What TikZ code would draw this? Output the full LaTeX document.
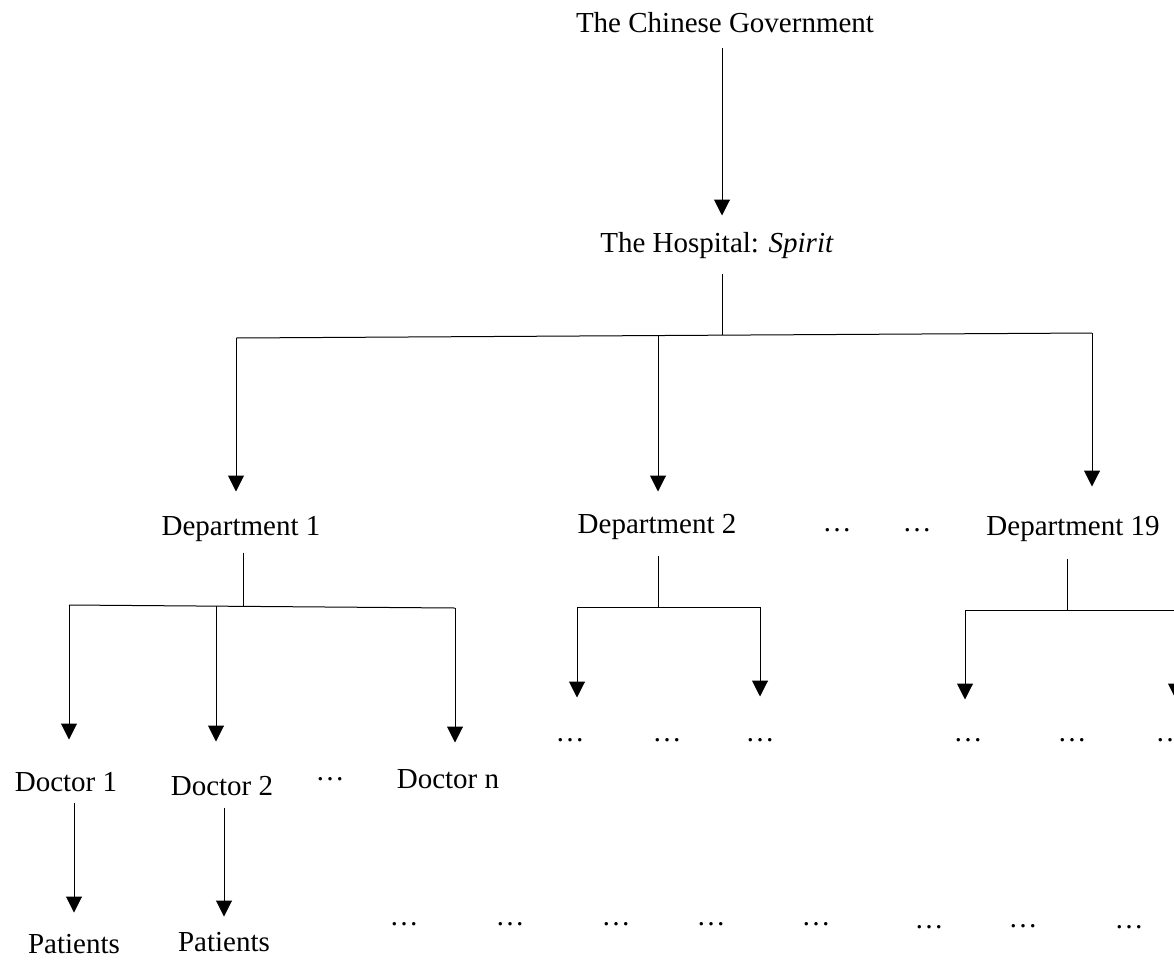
\documentclass[tikz,border=0pt]{standalone}
\usepackage{fontspec}
\setmainfont{Liberation Serif}
\usetikzlibrary{arrows.meta}

\begin{document}
\begin{tikzpicture}[x=1pt,y=-1pt,line width=1pt,
  lbl/.style={anchor=base,inner sep=0pt,text height=20pt,text depth=6pt,font=\fontsize{29}{34}\selectfont},
  tip/.style={-{Triangle[length=16pt,width=16pt]}}]

\useasboundingbox (0,0) rectangle (1174,964) ;
\clip (0,0) rectangle (1174,964) ;

\node[lbl] (gov) at (725,32) {The Chinese Government} ;
\node[lbl] (hosp) at (717,252) {The Hospital: \textit{Spirit}} ;

\node[lbl] (dep1) at (241,535) {Department 1} ;
\node[lbl] (dep2) at (657,533) {Department 2} ;
\node[lbl] (depdotsa) at (837,531) {…} ;
\node[lbl] (depdotsb) at (917,531) {…} ;
\node[lbl] (dep19) at (1073,535) {Department 19} ;

\node[lbl] (doc1) at (66,791) {Doctor 1} ;
\node[lbl] (doc2) at (222,795) {Doctor 2} ;
\node[lbl] (docdots) at (330,780) {…} ;
\node[lbl] (docn) at (448,788) {Doctor n} ;

\node[lbl] (pat1) at (74,953) {Patients} ;
\node[lbl] (pat2) at (224,951) {Patients} ;

\foreach \x [count=\i] in {570,667,760} \node[lbl] (dtwo\i) at (\x,741) {…} ;
\foreach \x [count=\i] in {968,1072,1170} \node[lbl] (dnineteen\i) at (\x,741) {…} ;
\foreach \x/\y [count=\i] in {404/925,510/925,616/925,711/925,816/925,929/928,1023/927,1129/928}
  \node[lbl] (bot\i) at (\x,\y) {…} ;

\coordinate (hbarL) at (236,338) ;
\coordinate (hbar) at (722,335) ;
\coordinate (hbarM) at (658,335.5) ;
\coordinate (hbarR) at (1092,333) ;

\draw[tip,shorten <=9pt,shorten >=16pt] (hbar |- gov.south) -- (hbar |- hosp.north) ;
\draw[shorten <=15pt] (hbar |- hosp.south) -- (hbar) ;
\draw (hbarL) -- (hbarR) ;
\draw[tip,shorten >=23pt] (hbarL) -- (hbarL |- dep1.north) ;
\draw[tip,shorten >=21pt] (hbarM) -- (hbarM |- dep2.north) ;
\draw[tip,shorten >=28pt] (hbarR) -- (hbarR |- dep19.north) ;

\coordinate (bonL) at (69,605) ;
\coordinate (bon) at (243,606) ;
\coordinate (bonM) at (216,606) ;
\coordinate (bonR) at (455,608) ;

\draw[shorten <=11pt] (bon |- dep1.south) -- (bon) ;
\draw (bonL) -- (bonR) ;
\draw[tip,shorten >=31pt] (bonL) -- (bonL |- doc1.north) ;
\draw[tip,shorten >=33pt] (bonM) -- (bonM |- doc2.north) ;
\draw[tip,shorten >=25pt] (bonR) -- (bonR |- docn.north) ;

\coordinate (btwL) at (577,607) ;
\coordinate (btw) at (658,607) ;
\coordinate (btwR) at (760,607) ;

\draw[shorten <=16pt] (btw |- dep2.south) -- (btw) ;
\draw (btwL) -- (btwR) ;
\draw[tip,shorten >=23pt] (btwL) -- (btwL |- dtwo1.north) ;
\draw[tip,shorten >=24pt] (btwR) -- (btwR |- dtwo3.north) ;

\coordinate (bniL) at (965,610) ;
\coordinate (bni) at (1067,610) ;
\coordinate (bniR) at (1176,610) ;

\draw[shorten <=17pt] (bni |- dep19.south) -- (bni) ;
\draw (bniL) -- (bniR) ;
\draw[tip,shorten >=21pt] (bniL) -- (bniL |- dnineteen1.north) ;
\draw[tip,shorten >=21pt] (bniR) -- (bniR |- dnineteen3.north) ;

\draw[tip,shorten <=5pt,shorten >=20pt] (pat1 |- doc1.south) -- (pat1.north) ;
\draw[tip,shorten <=6pt,shorten >=14pt] (pat2 |- doc2.south) -- (pat2.north) ;

\end{tikzpicture}
\end{document}
